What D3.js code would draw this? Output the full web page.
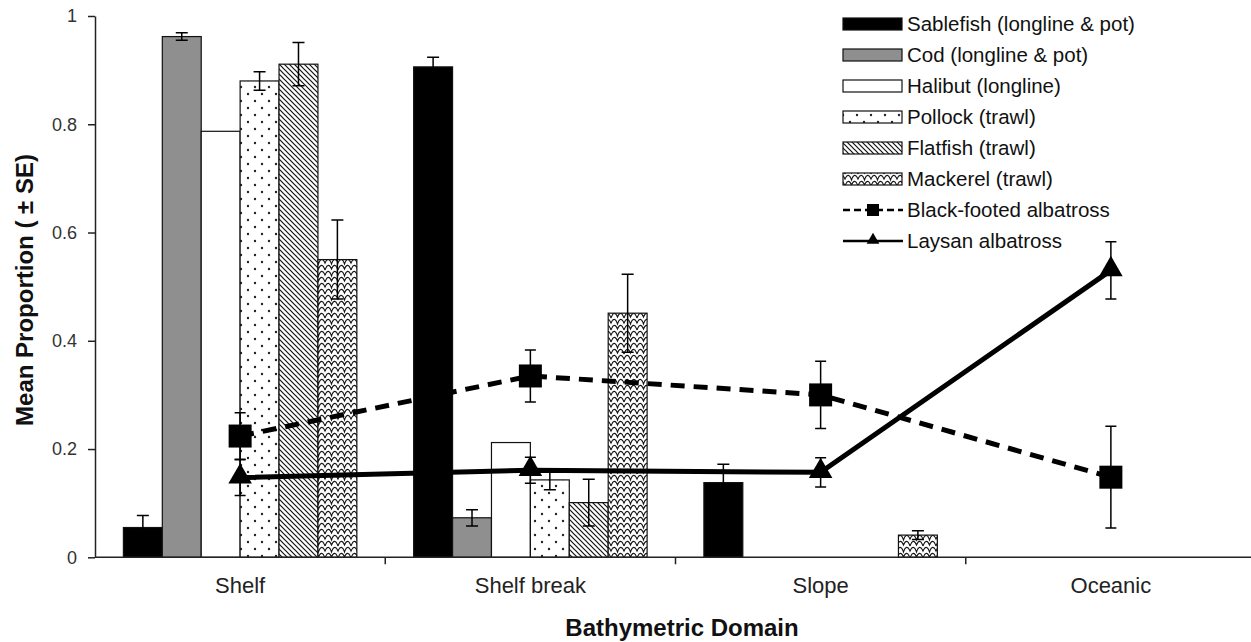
<!DOCTYPE html>
<html lang="en">
<head>
    <meta charset="UTF-8">
    <title>Bathymetric Domain</title>
    <style>
        body { margin: 0; background: #fff; }
        text { font-family: "Liberation Sans", Arial, sans-serif; }
    </style>
</head>
<body>
<script src="https://cdn.jsdelivr.net/npm/d3@7"></script>
<script>
    var width = 1251;
    var height = 642;

    var domains = ["Shelf", "Shelf break", "Slope", "Oceanic"];
    var fishNames = ["Sablefish (longline & pot)", "Cod (longline & pot)", "Halibut (longline)",
        "Pollock (trawl)", "Flatfish (trawl)", "Mackerel (trawl)"];

    var sablefish = [0.055, 0.906, 0.138, 0];
    var sablefishSE = [0.022, 0.018, 0.034, 0];
    var cod = [0.962, 0.073, 0, 0];
    var codSE = [0.007, 0.015, 0, 0];
    var halibut = [0.787, 0.212, 0, 0];
    var halibutSE = [0, 0, 0, 0];
    var pollock = [0.880, 0.143, 0, 0];
    var pollockSE = [0.017, 0.018, 0, 0];
    var flatfish = [0.911, 0.101, 0, 0];
    var flatfishSE = [0.040, 0.043, 0, 0];
    var mackerel = [0.550, 0.451, 0.041, 0];
    var mackerelSE = [0.073, 0.072, 0.008, 0];

    var blackFooted = [0.224, 0.335, 0.300, 0.148];
    var blackFootedSE = [0.043, 0.048, 0.062, 0.094];
    var laysan = [0.147, 0.161, 0.157, 0.530];
    var laysanSE = [0.033, 0.024, 0.027, 0.053];

    var yTicks = [0, 0.2, 0.4, 0.6, 0.8, 1];

    var fishValues = [sablefish, cod, halibut, pollock, flatfish, mackerel];
    var fishSE = [sablefishSE, codSE, halibutSE, pollockSE, flatfishSE, mackerelSE];
    var fishFill = ["#000", "#8f8f8f", "#fff", "url(#dots)", "url(#diag)", "url(#scales)"];

    var svg = d3.select('body')
            .append('svg')
            .attr('width', width)
            .attr('height', height);

    // patterns
    var defs = svg.append('defs');
    var pDots = defs.append('pattern').attr('id', 'dots').attr('patternUnits', 'userSpaceOnUse')
            .attr('width', 14).attr('height', 14);
    pDots.append('rect').attr('width', 14).attr('height', 14).attr('fill', '#fff');
    pDots.append('circle').attr('cx', 3).attr('cy', 3).attr('r', 1.2).attr('fill', '#222');
    pDots.append('circle').attr('cx', 10).attr('cy', 10).attr('r', 1.2).attr('fill', '#222');

    var pDiag = defs.append('pattern').attr('id', 'diag').attr('patternUnits', 'userSpaceOnUse')
            .attr('width', 5).attr('height', 5);
    pDiag.append('rect').attr('width', 5).attr('height', 5).attr('fill', '#fff');
    pDiag.append('path').attr('d', 'M-1,-1 L6,6 M-1,4 L1,6 M4,-1 L6,1')
            .attr('stroke', '#111').attr('stroke-width', 1.2);

    // fish-scale look for mackerel
    var pScales = defs.append('pattern').attr('id', 'scales').attr('patternUnits', 'userSpaceOnUse')
            .attr('width', 13).attr('height', 12);
    pScales.append('rect').attr('width', 13).attr('height', 12).attr('fill', '#fff');
    pScales.append('path')
            .attr('d', 'M0,6 C2,0 4.5,0 6.5,5 C8.5,0 11,0 13,6 ' +
                    'M-6.5,12 C-4.5,6 -2,6 0,11 C2,6 4.5,6 6.5,12 C8.5,6 11,6 13,11 C15,6 17.5,6 19.5,12 ' +
                    'M-6.5,0 C-4.5,-6 -2,-6 0,-1 C2,-6 4.5,-6 6.5,0 C8.5,-6 11,-6 13,-1 C15,-6 17.5,-6 19.5,0')
            .attr('fill', 'none').attr('stroke', '#111').attr('stroke-width', 1.1);

    var x0 = d3.scaleBand().domain(domains).range([95, 1256]).padding(0);
    var x1 = d3.scaleBand().domain(fishNames).range([0, x0.bandwidth()])
            .paddingInner(0).paddingOuter(0.73);
    var y = d3.scaleLinear().domain([0, 1]).range([557.3, 16]);

    // bars
    var barData = [];
    fishNames.forEach(function(f, i) {
        domains.forEach(function(d, j) {
            barData.push({fish: f, i: i, domain: d, v: fishValues[i][j], se: fishSE[i][j]});
        });
    });
    barData = barData.filter(function(d) { return d.v > 0; });

    svg.append('g').selectAll('rect')
            .data(barData)
            .enter()
            .append('rect')
            .attr('x', function(d) { return x0(d.domain) + x1(d.fish); })
            .attr('y', function(d) { return y(d.v); })
            .attr('width', x1.bandwidth())
            .attr('height', function(d) { return y(0) - y(d.v); })
            .attr('fill', function(d) { return fishFill[d.i]; })
            .attr('stroke', '#111')
            .attr('stroke-width', 1.2);

    function errorBars(g, data, xf, cap) {
        g.selectAll('path')
                .data(data.filter(function(d) { return d.se > 0; }))
                .enter()
                .append('path')
                .attr('d', function(d) {
                    var cx = xf(d), t = y(d.v + d.se), b = y(d.v - d.se);
                    return 'M' + cx + ',' + t + 'V' + b +
                            'M' + (cx - cap) + ',' + t + 'H' + (cx + cap) +
                            'M' + (cx - cap) + ',' + b + 'H' + (cx + cap);
                })
                .attr('stroke', '#000')
                .attr('stroke-width', 1.5)
                .attr('fill', 'none');
    }

    errorBars(svg.append('g'), barData, function(d) {
        return x0(d.domain) + x1(d.fish) + x1.bandwidth() / 2;
    }, 6);

    // axes
    var yAxis = d3.axisLeft(y).tickValues(yTicks).tickSize(7).tickPadding(11).tickSizeOuter(0)
            .tickFormat(function(d) { return d === 0 ? "0" : d === 1 ? "1" : d3.format(".1f")(d); });
    var gy = svg.append('g').attr('transform', 'translate(95,0)').call(yAxis);
    gy.select('.domain').attr('stroke', '#222').attr('stroke-width', 1.5);
    gy.selectAll('.tick line').attr('stroke', '#222').attr('stroke-width', 1.5);
    gy.selectAll('.tick text').attr('font-size', '18px').attr('fill', '#333')
            .attr('font-family', '"Liberation Sans", Arial, sans-serif');

    svg.append('line').attr('x1', 95).attr('x2', 1256).attr('y1', y(0)).attr('y2', y(0))
            .attr('stroke', '#222').attr('stroke-width', 1.5);
    svg.append('g').selectAll('line')
            .data(domains)
            .enter()
            .append('line')
            .attr('x1', function(d) { return x0(d) + x0.bandwidth(); })
            .attr('x2', function(d) { return x0(d) + x0.bandwidth(); })
            .attr('y1', y(0))
            .attr('y2', y(0) + 7)
            .attr('stroke', '#222')
            .attr('stroke-width', 1.5);
    svg.append('g').selectAll('text')
            .data(domains)
            .enter()
            .append('text')
            .attr('x', function(d) { return x0(d) + x0.bandwidth() / 2; })
            .attr('y', 593)
            .attr('text-anchor', 'middle')
            .attr('font-size', '22px')
            .attr('fill', '#222')
            .text(function(d) { return d; });

    // lines
    var cx = function(d, j) { return x0(domains[j]) + x0.bandwidth() / 2; };
    var line = d3.line()
            .x(function(d, j) { return cx(d, j); })
            .y(function(d) { return y(d); });

    svg.append('path').datum(blackFooted)
            .attr('d', line).attr('fill', 'none').attr('stroke', '#000')
            .attr('stroke-width', 5).attr('stroke-dasharray', '14,9');
    svg.append('path').datum(laysan)
            .attr('d', line).attr('fill', 'none').attr('stroke', '#000')
            .attr('stroke-width', 5);

    var bfData = blackFooted.map(function(v, j) { return {v: v, se: blackFootedSE[j], j: j}; });
    var lyData = laysan.map(function(v, j) { return {v: v, se: laysanSE[j], j: j}; });
    errorBars(svg.append('g'), bfData, function(d) { return cx(d, d.j); }, 5.5);
    errorBars(svg.append('g'), lyData, function(d) { return cx(d, d.j); }, 5.5);

    svg.append('g').selectAll('rect')
            .data(bfData)
            .enter()
            .append('rect')
            .attr('x', function(d) { return cx(d, d.j) - 11.5; })
            .attr('y', function(d) { return y(d.v) - 11.5; })
            .attr('width', 23)
            .attr('height', 23)
            .attr('fill', '#000');
    var tri = d3.symbol().type(d3.symbolTriangle).size(240);
    svg.append('g').selectAll('path')
            .data(lyData)
            .enter()
            .append('path')
            .attr('d', tri)
            .attr('transform', function(d) { return 'translate(' + cx(d, d.j) + ',' + (y(d.v) - 1) + ')'; })
            .attr('fill', '#000');

    // titles
    svg.append('text')
            .attr('transform', 'translate(33,290) rotate(-90)')
            .attr('text-anchor', 'middle')
            .attr('font-size', '24px')
            .attr('font-weight', 'bold')
            .attr('fill', '#111')
            .text('Mean Proportion ( \u00b1 SE)');
    svg.append('text')
            .attr('x', 682)
            .attr('y', 636)
            .attr('text-anchor', 'middle')
            .attr('font-size', '24px')
            .attr('font-weight', 'bold')
            .attr('fill', '#111')
            .text('Bathymetric Domain');

    // legend
    var legendNames = fishNames.concat(["Black-footed albatross", "Laysan albatross"]);
    var legendY = d3.scalePoint().domain(legendNames).range([24, 241]);
    var lg = svg.append('g');
    fishNames.forEach(function(f, i) {
        lg.append('rect')
                .attr('x', 843).attr('y', legendY(f) - 6)
                .attr('width', 59).attr('height', 12)
                .attr('fill', fishFill[i]).attr('stroke', '#111').attr('stroke-width', 1.2);
    });
    var bfy = legendY("Black-footed albatross");
    lg.append('line').attr('x1', 843).attr('x2', 903).attr('y1', bfy).attr('y2', bfy)
            .attr('stroke', '#000').attr('stroke-width', 2.5).attr('stroke-dasharray', '7,4');
    lg.append('rect').attr('x', 867).attr('y', bfy - 6).attr('width', 12).attr('height', 12).attr('fill', '#000');
    var lyy = legendY("Laysan albatross");
    lg.append('line').attr('x1', 843).attr('x2', 903).attr('y1', lyy).attr('y2', lyy)
            .attr('stroke', '#000').attr('stroke-width', 2.5);
    lg.append('path').attr('d', d3.symbol().type(d3.symbolTriangle).size(70))
            .attr('transform', 'translate(873,' + (lyy - 1) + ')').attr('fill', '#000');

    lg.selectAll('text')
            .data(legendNames)
            .enter()
            .append('text')
            .attr('x', 907)
            .attr('y', function(d) { return legendY(d) + 7; })
            .attr('font-size', '20.5px')
            .attr('fill', '#111')
            .text(function(d) { return d; });
</script>
</body>
</html>
